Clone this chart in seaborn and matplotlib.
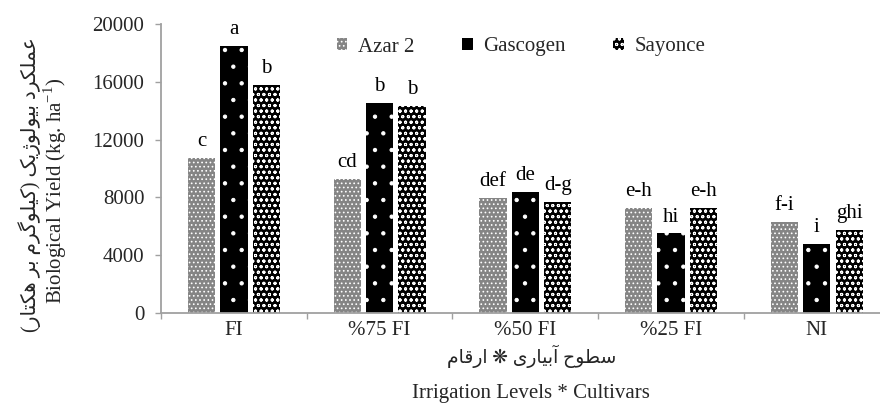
import numpy as np
import pandas as pd
import matplotlib
matplotlib.use('Agg')
import matplotlib.pyplot as plt
from matplotlib.patches import Patch
import seaborn as sns

# data
levels = ['FI', '%75 FI', '%50 FI', '%25 FI', 'NI']
cultivars = ['Azar 2', 'Gascogen', 'Sayonce']
azar2 = [10700, 9300, 7950, 7250, 6300]
gascogen = [18500, 14550, 8350, 5500, 4800]
sayonce = [15800, 14300, 7700, 7250, 5750]
letters_azar2 = ['c', 'cd', 'def', 'e-h', 'f-i']
letters_gascogen = ['a', 'b', 'de', 'hi', 'i']
letters_sayonce = ['b', 'b', 'd-g', 'e-h', 'ghi']
yticks = [0, 4000, 8000, 12000, 16000, 20000]

ylabel_fa = 'عملکرد بیولوژیک (کیلوگرم بر هکتار)'
ylabel_en = 'Biological Yield (kg. ha$^{-1}$)'
xlabel_fa = 'سطوح آبیاری ❋ ارقام'
xlabel_en = 'Irrigation Levels * Cultivars'

# Persian letters -> presentation forms (isolated, final[, initial, medial])
FORMS = {
    'ا': ('\uFE8D', '\uFE8E'), 'آ': ('\uFE81', '\uFE82'),
    'د': ('\uFEA9', '\uFEAA'), 'ر': ('\uFEAD', '\uFEAE'),
    'ژ': ('\uFB8A', '\uFB8B'), 'و': ('\uFEED', '\uFEEE'),
    'ب': ('\uFE8F', '\uFE90', '\uFE91', '\uFE92'),
    'ت': ('\uFE95', '\uFE96', '\uFE97', '\uFE98'),
    'ح': ('\uFEA1', '\uFEA2', '\uFEA3', '\uFEA4'),
    'س': ('\uFEB1', '\uFEB2', '\uFEB3', '\uFEB4'),
    'ط': ('\uFEC1', '\uFEC2', '\uFEC3', '\uFEC4'),
    'ع': ('\uFEC9', '\uFECA', '\uFECB', '\uFECC'),
    'ق': ('\uFED5', '\uFED6', '\uFED7', '\uFED8'),
    'ک': ('\uFB8E', '\uFB8F', '\uFB90', '\uFB91'),
    'گ': ('\uFB92', '\uFB93', '\uFB94', '\uFB95'),
    'ل': ('\uFEDD', '\uFEDE', '\uFEDF', '\uFEE0'),
    'م': ('\uFEE1', '\uFEE2', '\uFEE3', '\uFEE4'),
    'ه': ('\uFEE9', '\uFEEA', '\uFEEB', '\uFEEC'),
    'ی': ('\uFBFC', '\uFBFD', '\uFBFE', '\uFBFF'),
}


def shape_fa(text):
    # join letters and put them in visual (left-to-right) order
    out = []
    for i, ch in enumerate(text):
        if ch not in FORMS:
            out.append(ch)
            continue
        prev = text[i - 1] if i > 0 else ''
        nxt = text[i + 1] if i + 1 < len(text) else ''
        join_prev = prev in FORMS and len(FORMS[prev]) == 4
        join_next = len(FORMS[ch]) == 4 and nxt in FORMS
        f = FORMS[ch]
        if join_prev and join_next:
            out.append(f[3])
        elif join_prev:
            out.append(f[1])
        elif join_next:
            out.append(f[2])
        else:
            out.append(f[0])
    mirror = {'(': ')', ')': '('}
    return ''.join(mirror.get(c, c) for c in reversed(out))


df = pd.DataFrame({
    'level': levels * 3,
    'cultivar': np.repeat(cultivars, len(levels)),
    'yield': azar2 + gascogen + sayonce,
})

sns.set_theme(style='white')
plt.rcParams['font.family'] = ['Liberation Serif', 'DejaVu Sans']
plt.rcParams['mathtext.fontset'] = 'custom'
plt.rcParams['mathtext.rm'] = 'Liberation Serif'
plt.rcParams['hatch.linewidth'] = 0.7

fig = plt.figure(figsize=(8.8, 4.19), dpi=100)
ax = fig.add_axes([0.183, 0.253, 0.828, 0.690])

faces = ['#858585', 'black', 'black']
hatches = ['....', '.', 'ooo']

sns.barplot(data=df, x='level', y='yield', hue='cultivar', order=levels,
            hue_order=cultivars, palette=faces, width=0.667, gap=0.16,
            legend=False, ax=ax)

all_letters = [letters_azar2, letters_gascogen, letters_sayonce]
for cont, face, hatch, lets in zip(ax.containers, faces, hatches, all_letters):
    for bar in cont:
        bar.set_facecolor(face)
        bar.set_edgecolor('white')
        bar.set_linewidth(0)
        bar.set_hatch(hatch)
    ax.bar_label(cont, labels=lets, padding=5, fontsize=15, color='black')

ax.set_ylim(0, 20000)
ax.set_yticks(yticks)
ax.set_yticklabels([str(v) for v in yticks], fontsize=15)
ax.set_xlim(-0.5, len(levels) - 0.5)
ax.set_xticks(range(len(levels)))
ax.set_xticklabels(levels, fontsize=15)
ax.set_xticks(np.arange(-0.5, len(levels), 1), minor=True)
ax.tick_params(axis='x', which='major', length=0, pad=6)
ax.tick_params(axis='x', which='minor', length=4, width=1, color='#a0a0a0', direction='out', bottom=True)
ax.tick_params(axis='y', length=4, width=1, color='#a0a0a0', direction='out', pad=8, left=True)
ax.set_xlabel('')
ax.set_ylabel('')
sns.despine(ax=ax)
for s in ['left', 'bottom']:
    ax.spines[s].set_color('#a0a0a0')
    ax.spines[s].set_linewidth(1.3)

handles = [Patch(facecolor=f, edgecolor='white', linewidth=0, hatch=h)
           for f, h in zip(faces, hatches)]
fig.legend(handles, cultivars, loc='center', bbox_to_anchor=(521 / 880, 1 - 47 / 419),
           ncol=3, frameon=False, handlelength=0.5, handleheight=0.5,
           handletextpad=0.5, columnspacing=2.3, fontsize=15)

fig.text(30 / 880, 1 - 185 / 419, shape_fa(ylabel_fa), rotation=90,
         ha='center', va='center', fontsize=14.5)
fig.text(55 / 880, 1 - 191 / 419, ylabel_en, rotation=90,
         ha='center', va='center', fontsize=15)
fig.text(532 / 880, 1 - 356 / 419, shape_fa(xlabel_fa),
         ha='center', va='center', fontsize=13.5)
fig.text(531 / 880, 1 - 393 / 419, xlabel_en,
         ha='center', va='center', fontsize=15)

fig.savefig('out.png', dpi=100)
